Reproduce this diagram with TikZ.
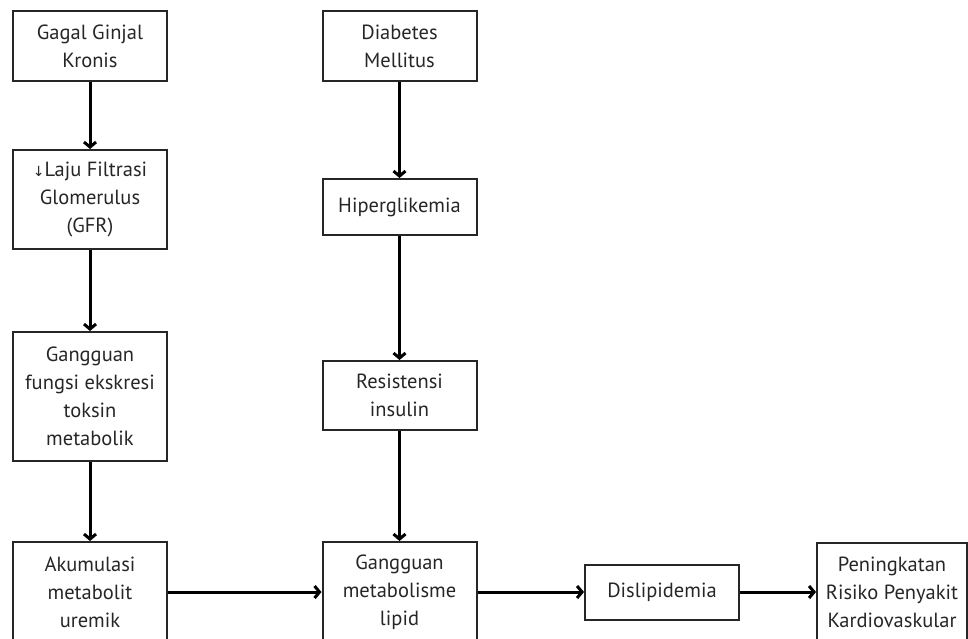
\documentclass[tikz,border=0pt]{standalone}
\usepackage{fontspec}
\setmainfont{PT Sans}
\newfontfamily\arrowfont{DejaVu Sans}
\usetikzlibrary{arrows.meta}

\begin{document}
\begin{tikzpicture}[x=1pt,y=-1pt,>={Straight Barb[length=5pt,width=12pt]},
  box/.style={draw=black!85,line width=2pt,align=center,inner sep=0pt,
    font=\fontsize{20.5}{28}\selectfont,text=black!85,minimum width=154pt}]
  \useasboundingbox (0,0) rectangle (968,639);

  % kolom ginjal
  \node[box,minimum height=70pt] (ggk) at (90,46) {Gagal Ginjal\\Kronis};
  \node[box,minimum height=99pt] (lfg) at (90,199.5) {{\arrowfont\fontsize{14}{28}\selectfont ↓}Laju Filtrasi\\Glomerulus\\(GFR)};
  \node[box,minimum height=129pt] (gfe) at (90,396.5) {Gangguan\\fungsi ekskresi\\toksin\\metabolik};
  \node[box,minimum height=100pt] (amu) at (90,592) {Akumulasi\\metabolit\\uremik};

  % kolom diabetes
  \node[box,minimum height=70pt] (dm) at (399.5,46) {Diabetes\\Mellitus};
  \node[box,minimum height=56pt] (hip) at (399.5,207) {Hiperglikemia};
  \node[box,minimum height=69pt] (res) at (399.5,395.5) {Resistensi\\insulin};
  \node[box,minimum height=100pt] (gml) at (399.5,592) {Gangguan\\metabolisme\\lipid};

  % hasil
  \node[box,minimum height=55pt] (dis) at (662,592) {Dislipidemia};
  \node[box,minimum width=150pt,minimum height=98pt] (pen) at (892,592) {Peningkatan\\Risiko Penyakit\\Kardiovaskular};

  \path[->,line width=3pt]
    (ggk) edge (lfg)
    (lfg) edge (gfe)
    (gfe) edge (amu)
    (dm) edge (hip)
    (hip) edge (res)
    (res) edge (gml)
    (amu) edge (gml)
    (gml) edge (dis)
    (dis) edge (pen)
    ;
\end{tikzpicture}
\end{document}
